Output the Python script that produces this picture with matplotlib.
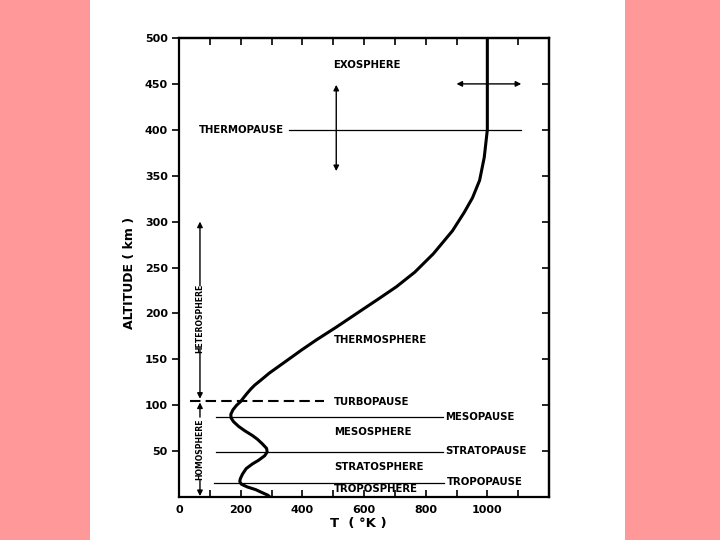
import matplotlib
matplotlib.use("Agg")
import matplotlib.pyplot as plt
from matplotlib.patches import Rectangle

# ---- data ----
altitude_km = [0, 2, 5, 8, 11, 14, 17, 20, 25, 31, 36, 40, 45, 49, 53, 58, 63,
               67, 72, 77, 82, 86, 90, 95, 100, 104, 108, 113, 118, 122, 128,
               135, 141, 147, 153, 160, 171, 185, 203, 216, 229, 245, 265, 290,
               310, 326, 345, 370, 400, 450, 500]
temperature_K = [295, 288, 268, 249, 221, 202, 197, 199, 206, 218, 238, 258,
                 278, 286, 284, 270, 254, 238, 214, 193, 177, 169, 168, 175,
                 187, 200, 209, 221, 234, 246, 268, 293, 318, 343, 368, 397,
                 445, 510, 590, 648, 705, 765, 825, 887, 925, 952, 975, 990,
                 1000, 1000, 1000]

x_major_ticks = [0, 200, 400, 600, 800, 1000]
x_minor_ticks = [100, 300, 500, 700, 900, 1100]
y_ticks = [50, 100, 150, 200, 250, 300, 350, 400, 450, 500]

# boundary lines: name, altitude, T start, T end
pause_names = ["MESOPAUSE", "STRATOPAUSE", "TROPOPAUSE"]
pause_alts = [87, 49, 15]
pause_t0 = [119, 119, 114]
pause_t1 = [855, 855, 860]
pause_label_alts = [87, 50, 16]

layer_names = ["THERMOSPHERE", "MESOSPHERE", "STRATOSPHERE", "TROPOSPHERE"]
layer_alts = [170.7, 70.7, 32.6, 8.7]

FONT = dict(family="DejaVu Sans", fontweight="bold")

fig = plt.figure(figsize=(7.2, 5.4), dpi=100)
fig.patch.set_facecolor("#FF9999")
fig.patches.append(Rectangle((90 / 720, 0), (625 - 90) / 720, 1,
                             transform=fig.transFigure, facecolor="white",
                             edgecolor="none", zorder=-10))

ax = fig.add_axes([179 / 720, 43 / 540, (549 - 179) / 720, (497 - 38) / 540])
ax.set_facecolor("white")
ax.set_xlim(0, 1200)
ax.set_ylim(0, 500)

# temperature profile
ax.plot(temperature_K, altitude_km, color="black", lw=2.2,
        solid_joinstyle="round", solid_capstyle="round", zorder=5)

# spines
for s in ax.spines.values():
    s.set_linewidth(1.6)

# ticks
ax.set_xticks(x_major_ticks)
ax.set_xticks(x_minor_ticks, minor=True)
ax.set_yticks(y_ticks)
ax.tick_params(axis="x", which="both", direction="in", length=5, width=1.2,
               top=False, labelsize=8, pad=6)
ax.tick_params(axis="y", which="both", direction="out", length=5, width=1.2,
               right=False, labelsize=8, pad=3)
for lab in ax.get_xticklabels() + ax.get_yticklabels():
    lab.set_fontweight("bold")

secx = ax.secondary_xaxis("top")
secx.set_xticks(x_major_ticks + x_minor_ticks)
secx.tick_params(direction="in", length=5, width=1.2, labeltop=False)
secx.spines["top"].set_linewidth(1.6)
secy = ax.secondary_yaxis("right")
secy.set_yticks(y_ticks)
secy.tick_params(direction="in", length=5, width=1.2, labelright=False)
secy.spines["right"].set_linewidth(1.6)

# axis labels
fig.text(130 / 720, 1 - 273 / 540, "ALTITUDE ( km )", rotation=90,
         ha="center", va="center", fontsize=9, **FONT)
fig.text(358 / 720, 1 - 523 / 540, "T  ( °K )", ha="center", va="center",
         fontsize=9.5, **FONT)

# thermopause
ax.plot([357, 1110], [400, 400], color="black", lw=0.9)
ax.text(65, 400, "THERMOPAUSE", ha="left", va="center", fontsize=7.3, **FONT)

# exosphere
ax.text(610, 471, "EXOSPHERE", ha="center", va="center", fontsize=7.3, **FONT)
arrow = dict(arrowstyle="<|-|>", color="black", lw=1.0, mutation_scale=8,
             shrinkA=0, shrinkB=0)
ax.annotate("", xy=(510, 449), xytext=(510, 355), arrowprops=arrow)
ax.annotate("", xy=(900, 450), xytext=(1110, 450), arrowprops=arrow)

# turbopause
ax.plot([35, 471], [105, 105], color="black", lw=1.5, dashes=(5, 2.5))
ax.text(503, 103, "TURBOPAUSE", ha="left", va="center", fontsize=7.3, **FONT)

# pauses
for name, a, t0, t1, la in zip(pause_names, pause_alts, pause_t0, pause_t1,
                               pause_label_alts):
    ax.plot([t0, t1], [a, a], color="black", lw=0.9)
    ax.text(t1 + 8, la, name, ha="left", va="center", fontsize=7.3, **FONT)

# layer names
for name, a in zip(layer_names, layer_alts):
    ax.text(503, a, name, ha="left", va="center", fontsize=7.3, **FONT)

# heterosphere / homosphere arrows
one = dict(arrowstyle="-|>", color="black", lw=1.0, mutation_scale=8,
           shrinkA=0, shrinkB=0)
xh = 68
ax.annotate("", xy=(xh, 300), xytext=(xh, 230), arrowprops=one)
ax.annotate("", xy=(xh, 107), xytext=(xh, 160), arrowprops=one)
ax.text(xh, 195, "HETEROSPHERE", rotation=90, ha="center", va="center",
        fontsize=5.6, **FONT)
ax.annotate("", xy=(xh, 103), xytext=(xh, 87), arrowprops=one)
ax.annotate("", xy=(xh, 1), xytext=(xh, 18), arrowprops=one)
ax.text(xh, 52, "HOMOSPHERE", rotation=90, ha="center", va="center",
        fontsize=5.6, **FONT)

fig.savefig("out.png", dpi=100, facecolor=fig.get_facecolor())
